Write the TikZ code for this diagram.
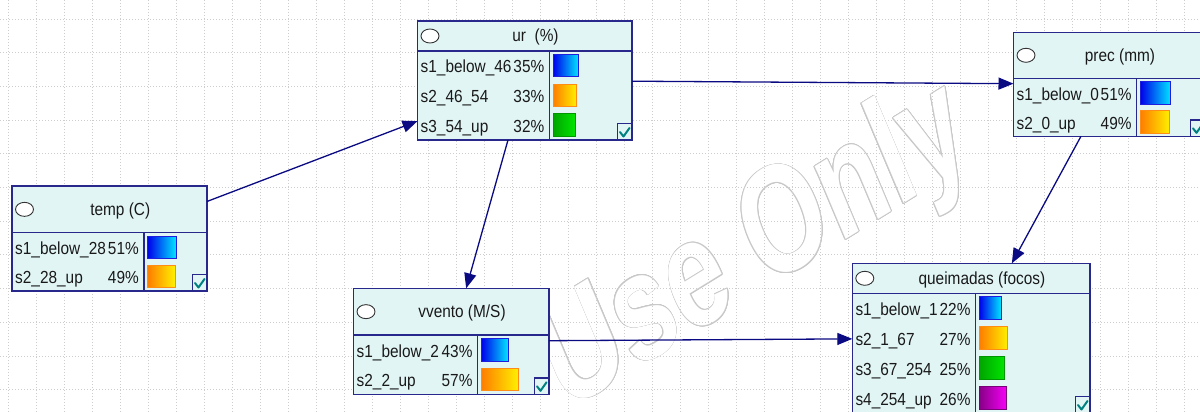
\documentclass[tikz,border=0pt]{standalone}
\usepackage{fontspec}
\setmainfont{Liberation Sans}[FakeStretch=0.88]
\newfontfamily\wmfont{Liberation Sans}[FakeStretch=0.83]
\usetikzlibrary{arrows.meta}

\definecolor{nodefill}{RGB}{226,245,245}
\definecolor{nodeborder}{RGB}{40,40,140}
\definecolor{linkcol}{RGB}{10,10,130}
\definecolor{txtcol}{RGB}{25,25,25}
\definecolor{gridcol}{RGB}{205,205,205}
\definecolor{wmcol}{RGB}{200,200,200}
\definecolor{tickcol}{RGB}{0,128,128}
\definecolor{blueL}{RGB}{0,0,235}\definecolor{blueR}{RGB}{0,230,255}\definecolor{blueB}{RGB}{30,30,220}
\definecolor{orangeL}{RGB}{255,125,0}\definecolor{orangeR}{RGB}{255,240,0}\definecolor{orangeB}{RGB}{255,140,20}
\definecolor{greenL}{RGB}{0,165,0}\definecolor{greenR}{RGB}{0,230,0}\definecolor{greenB}{RGB}{0,150,0}
\definecolor{purpleL}{RGB}{135,0,135}\definecolor{purpleR}{RGB}{245,0,245}\definecolor{purpleB}{RGB}{120,0,120}

\newcommand\bnfont{\fontsize{17.5}{20}\selectfont}

% #1 name, #2 left, #3 top, #4 right, #5 title height, #6 split x, #7 bottom, #8 title
\newcommand\bnnode[8]{%
  \node[bnbox, minimum width={(#4)-(#2)}, minimum height={(#7)-(#3)}] (#1) at (#2,#3) {};
  \draw[bnline] (#2,{#3+#5}) -- (#4,{#3+#5});
  \draw[bnline] (#6,{#3+#5}) -- (#6,#7);
  \draw[bnring] ({#2+12.5},{#3+#5/2}) ellipse [x radius=9, y radius=7];
  \node[bntitle] at ({(#2+21.5+#4)/2},{#3+#5/2+6}) {#8};
  \draw[bnline, fill=nodefill] ({#4-14.5},{#7-16.5}) rectangle (#4,#7);
  \draw[tick] ({#4-12},{#7-8}) -- ({#4-8.5},{#7-3.5}) -- ({#4-2.5},{#7-12});
}

% #1 left, #2 split x, #3 row top, #4 state, #5 percent, #6 bar width, #7 bar colour
\newcommand\bnstate[7]{%
  \node[bnlabel] at ({#1+3},{#3+22}) {#4};
  \node[bnpct] at ({#2-5},{#3+22}) {#5\%};
  \path[left color=#7L, right color=#7R, draw=#7B, line width=1pt]
    ({#2+3.5},{#3+3.5}) rectangle ({#2+3+#6},{#3+26});
}

\begin{document}
\begin{tikzpicture}[x=1pt, y=-1pt,
  bnbox/.style={draw=nodeborder, fill=nodefill, line width=1.4pt, rectangle,
    inner sep=0pt, outer sep=0pt, anchor=north west},
  bnline/.style={draw=nodeborder, line width=1.4pt},
  bnring/.style={draw=black!80, fill=white, line width=0.9pt},
  bntitle/.style={anchor=base, inner sep=0pt, text=txtcol, font=\bnfont},
  bnlabel/.style={anchor=base west, inner sep=0pt, text=txtcol, font=\bnfont},
  bnpct/.style={anchor=base east, inner sep=0pt, text=txtcol, font=\bnfont},
  tick/.style={draw=tickcol, line width=2pt, line cap=round, line join=round},
  link/.style={draw=linkcol, line width=1.3pt, -{Triangle[length=15pt,width=12pt]}},
  gridline/.style={draw=gridcol, line width=0.9pt, dash pattern=on 1pt off 2pt},
  wm/.style={font=\wmfont\bfseries\fontsize{128}{128}\selectfont, inner sep=0pt,
    yscale=1.21, rotate=27}]

\useasboundingbox (0,0) rectangle (1200,412);
\clip (0,0) rectangle (1200,412);
\fill[white] (0,0) rectangle (1200,412);

% hollow watermark lettering
\foreach \a in {0,22.5,...,337.5}
  \node[wm, text=wmcol] at ([shift={(\a:0.8pt)}]756,250) {Use Only};
\node[wm, text=white] at (756,250) {Use Only};

% dotted background grid
\foreach \i in {0,...,42}
  \draw[gridline] ({8+28*\i},0) -- ({8+28*\i},412);
\foreach \j in {0,...,11}
  \draw[gridline] (0,{19+33.7*\j}) -- (1200,{19+33.7*\j});

% temp (C)
\bnnode{temp}{12}{186}{207}{46.7}{144}{291}{temp (C)}
\bnstate{12}{144}{232.7}{s1\_below\_28}{51}{29}{blue}
\bnstate{12}{144}{261.9}{s2\_28\_up}{49}{28}{orange}

% ur (%)
\bnnode{ur}{417.5}{21}{632}{30}{549.5}{140}{ur\ \ (\%)}
\bnstate{417.5}{549.5}{51}{s1\_below\_46}{35}{26}{blue}
\bnstate{417.5}{549.5}{80.7}{s2\_46\_54}{33}{24}{orange}
\bnstate{417.5}{549.5}{110.4}{s3\_54\_up}{32}{23}{green}

% prec (mm)
\bnnode{prec}{1013.5}{32.3}{1205}{46}{1136.7}{136.3}{prec (mm)}
\bnstate{1013.5}{1136.7}{78.3}{s1\_below\_0}{51}{31}{blue}
\bnstate{1013.5}{1136.7}{107.3}{s2\_0\_up}{49}{30}{orange}

% vvento (M/S)
\bnnode{vvento}{353.5}{288.3}{549}{46.7}{477.7}{394.3}{vvento (M/S)}
\bnstate{353.5}{477.7}{335}{s1\_below\_2}{43}{27.5}{blue}
\bnstate{353.5}{477.7}{364.7}{s2\_2\_up}{57}{37.5}{orange}

% queimadas (focos)
\bnnode{queimadas}{852.3}{263.3}{1090}{30}{975.7}{413}{queimadas (focos)}
\bnstate{852.3}{975.7}{293.3}{s1\_below\_1}{22}{22.5}{blue}
\bnstate{852.3}{975.7}{323.2}{s2\_1\_67}{27}{29}{orange}
\bnstate{852.3}{975.7}{353.1}{s3\_67\_254}{25}{26}{green}
\bnstate{852.3}{975.7}{383}{s4\_254\_up}{26}{27.5}{purple}

% arcs of the network
\draw[link] (temp) -- (ur);
\draw[link] (ur) -- (prec);
\draw[link] (ur) -- (vvento);
\draw[link] (prec) -- (queimadas);
\draw[link] (vvento) -- (queimadas);
\end{tikzpicture}
\end{document}
